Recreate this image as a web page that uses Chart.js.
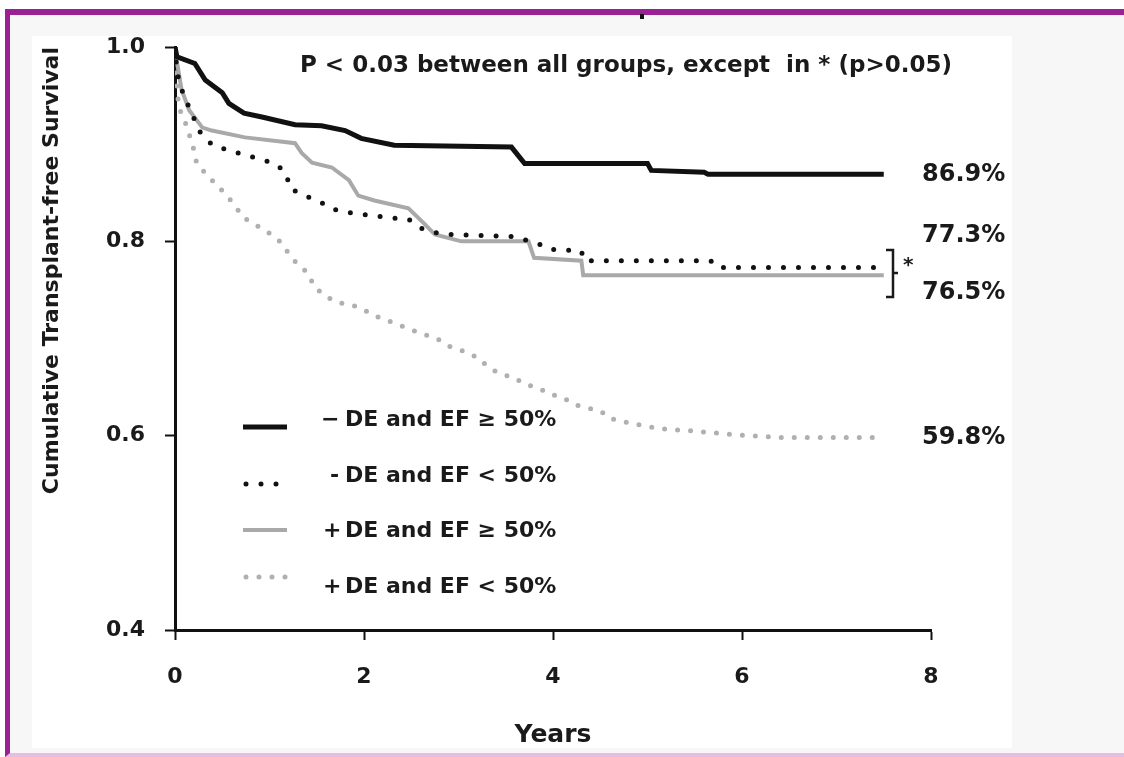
<!DOCTYPE html>
<html>
<head>
<meta charset="utf-8">
<script src="https://cdn.jsdelivr.net/npm/chart.js@4.4.1/dist/chart.umd.min.js"></script>
<style>
  body { margin: 0; background: #fff; }
  #frame { position: absolute; left: 5px; top: 9px; width: 1119px; height: 748px; box-sizing: border-box;
           background: #f7f7f7; border-top: 6px solid #9b2093; border-left: 5px solid #9b2093; border-bottom: 4px solid #e6bde6; }
  #paper { position: absolute; left: 32px; top: 36px; width: 980px; height: 712px; background: #fff; }
  #mark { position: absolute; left: 640px; top: 14px; width: 4px; height: 5px; background: #111; }
  #chart { position: absolute; left: 0; top: 0; }
</style>
</head>
<body>
<div id="frame"></div>
<div id="paper"></div>
<div id="mark"></div>
<canvas id="chart" width="1124" height="757"></canvas>
<script>
// Kaplan-Meier curves (years, survival)
const negPresX = [0, 0.02, 0.21, 0.32, 0.50, 0.57, 0.73, 0.92, 1.27, 1.55, 1.80, 1.97, 2.32, 3.56, 3.70, 5.00, 5.04, 5.60, 5.64, 7.50];
const negPresY = [1.0, 0.99, 0.983, 0.966, 0.953, 0.942, 0.932, 0.928, 0.920, 0.919, 0.914, 0.906, 0.899, 0.897, 0.880, 0.880, 0.873, 0.871, 0.869, 0.869];

const negRedX = [0, 0.02, 0.10, 0.18, 0.23, 0.31, 0.41, 0.57, 0.73, 0.89, 1.06, 1.18, 1.21, 1.36, 1.52, 1.64, 1.80, 1.97, 2.29, 2.47, 2.59, 2.75, 2.89, 3.56, 3.84, 3.95, 4.30, 4.33, 5.67, 5.74, 7.40];
const negRedY = [1.0, 0.974, 0.947, 0.933, 0.917, 0.907, 0.898, 0.894, 0.889, 0.885, 0.880, 0.870, 0.855, 0.847, 0.842, 0.834, 0.830, 0.828, 0.824, 0.823, 0.814, 0.809, 0.807, 0.805, 0.798, 0.792, 0.790, 0.780, 0.780, 0.773, 0.773];

const posPresX = [0, 0.02, 0.07, 0.15, 0.29, 0.39, 0.74, 1.27, 1.34, 1.45, 1.66, 1.84, 1.94, 2.11, 2.47, 2.64, 2.75, 3.03, 3.74, 3.80, 4.30, 4.32, 7.50];
const posPresY = [1.0, 0.985, 0.956, 0.935, 0.917, 0.914, 0.907, 0.901, 0.891, 0.881, 0.876, 0.863, 0.847, 0.842, 0.834, 0.818, 0.807, 0.800, 0.800, 0.783, 0.780, 0.765, 0.765];

const posRedX = [0, 0.02, 0.04, 0.11, 0.16, 0.20, 0.23, 0.34, 0.44, 0.55, 0.63, 0.73, 0.87, 0.99, 1.11, 1.20, 1.29, 1.41, 1.47, 1.58, 1.73, 1.89, 2.03, 2.17, 2.32, 2.47, 2.61, 2.77, 2.90, 3.05, 3.21, 3.32, 3.45, 3.59, 3.70, 3.85, 3.96, 4.11, 4.22, 4.51, 4.59, 4.72, 4.86, 5.14, 5.46, 5.93, 6.41, 7.39];
const posRedY = [1.0, 0.96, 0.938, 0.922, 0.907, 0.894, 0.880, 0.868, 0.858, 0.847, 0.837, 0.824, 0.816, 0.809, 0.800, 0.788, 0.777, 0.767, 0.754, 0.744, 0.737, 0.734, 0.728, 0.721, 0.716, 0.710, 0.705, 0.700, 0.692, 0.687, 0.680, 0.670, 0.663, 0.660, 0.653, 0.649, 0.643, 0.639, 0.632, 0.625, 0.618, 0.615, 0.612, 0.607, 0.605, 0.601, 0.598, 0.598];

const groupPrefix = ['\u2212', '-', '+', '+'];
const groupText = ['DE and EF \u2265 50%', 'DE and EF < 50%', 'DE and EF \u2265 50%', 'DE and EF < 50%'];
const endLabels = ['86.9%', '77.3%', '76.5%', '59.8%'];
const xTicks = [0, 2, 4, 6, 8];
const yTicks = [0.4, 0.6, 0.8, 1.0];
const pNote = 'P < 0.03 between all groups, except  in * (p>0.05)';

const FONT = '"DejaVu Sans", sans-serif';
const toPts = (xs, ys) => xs.map((x, i) => ({ x: x, y: ys[i] }));

// legend, end-of-curve percentages, bracket and p-value note
const annotations = {
    id: 'annotations',
    afterDatasetsDraw(chart) {
        const ctx = chart.ctx;
        const area = chart.chartArea;
        const ys = chart.scales.y;
        ctx.save();
        ctx.fillStyle = '#1a1a1a';
        ctx.textBaseline = 'middle';

        ctx.font = 'bold 23px ' + FONT;
        ctx.textAlign = 'left';
        ctx.fillText(pNote, area.left + 125, 66);

        // legend
        const textRows = [420, 476, 531, 587];
        const lineRows = [427, 484, 530, 577];
        const prefixX = [321, 330, 323, 323];
        chart.data.datasets.forEach((ds, i) => {
            ctx.save();
            ctx.strokeStyle = ds.borderColor;
            ctx.lineWidth = ds.borderWidth;
            ctx.lineCap = ds.borderCapStyle || 'butt';
            ctx.setLineDash(ds.borderDash || []);
            ctx.beginPath();
            const x0 = ds.borderDash ? 246 : 243;
            ctx.moveTo(x0, lineRows[i]);
            ctx.lineTo(287, lineRows[i]);
            ctx.stroke();
            ctx.restore();
            ctx.font = 'bold 22px ' + FONT;
            ctx.fillText(groupPrefix[i], prefixX[i], textRows[i]);
            ctx.fillText(groupText[i], 345, textRows[i]);
        });

        // final survival labels
        const labelShift = [0, -32, 17, 0];
        ctx.font = 'bold 24px ' + FONT;
        chart.data.datasets.forEach((ds, i) => {
            const last = ds.data[ds.data.length - 1];
            ctx.fillText(endLabels[i], 922, ys.getPixelForValue(last.y) + labelShift[i]);
        });

        // bracket for the non-significant pair
        ctx.strokeStyle = '#1a1a1a';
        ctx.lineWidth = 2.5;
        ctx.beginPath();
        ctx.moveTo(886, 250);
        ctx.lineTo(893, 250);
        ctx.lineTo(893, 297);
        ctx.lineTo(886, 297);
        ctx.moveTo(893, 273);
        ctx.lineTo(898, 273);
        ctx.stroke();
        ctx.font = 'bold 20px ' + FONT;
        ctx.fillText('*', 903, 266);
        ctx.restore();
    }
};

new Chart(document.getElementById('chart'), {
    type: 'line',
    data: {
        datasets: [
            { label: '\u2212 DE and EF \u2265 50%', data: toPts(negPresX, negPresY), borderColor: '#111', borderWidth: 5 },
            { label: '- DE and EF < 50%', data: toPts(negRedX, negRedY), borderColor: '#111', borderWidth: 5,
              borderDash: [0, 15], borderCapStyle: 'round' },
            { label: '+ DE and EF \u2265 50%', data: toPts(posPresX, posPresY), borderColor: '#a9a9a9', borderWidth: 4 },
            { label: '+ DE and EF < 50%', data: toPts(posRedX, posRedY), borderColor: '#b0b0b0', borderWidth: 5,
              borderDash: [0, 13], borderCapStyle: 'round' }
        ]
    },
    options: {
        responsive: false,
        animation: false,
        parsing: false,
        elements: { point: { radius: 0 }, line: { tension: 0, fill: false } },
        layout: { padding: { left: 30, top: 47, right: 193, bottom: 0 } },
        plugins: { legend: { display: false }, tooltip: { enabled: false } },
        scales: {
            x: {
                type: 'linear',
                min: 0,
                max: 8,
                afterFit: (s) => { s.height = 127; },
                afterBuildTicks: (s) => { s.ticks = xTicks.map(v => ({ value: v })); },
                grid: { drawOnChartArea: false, drawTicks: true, tickLength: 10, tickColor: '#111', tickWidth: 2 },
                border: { color: '#111', width: 3 },
                ticks: { color: '#1a1a1a', padding: 24, font: { family: FONT, size: 22, weight: 'bold' } },
                title: { display: true, text: 'Years', color: '#1a1a1a', padding: { top: 0, bottom: 7 },
                         font: { family: FONT, size: 25, weight: 'bold' } }
            },
            y: {
                type: 'linear',
                min: 0.4,
                max: 1.0,
                afterFit: (s) => { s.width = 145; },
                afterBuildTicks: (s) => { s.ticks = yTicks.map(v => ({ value: v })); },
                grid: { drawOnChartArea: false, drawTicks: true, tickLength: 10, tickColor: '#111', tickWidth: 2 },
                border: { color: '#111', width: 3 },
                ticks: { color: '#1a1a1a', padding: 20, font: { family: FONT, size: 22, weight: 'bold' },
                         callback: (v) => v.toFixed(1) },
                title: { display: true, text: 'Cumulative Transplant-free Survival', color: '#1a1a1a', align: 'end',
                         padding: { top: 9, bottom: 0 }, font: { family: FONT, size: 22, weight: 'bold' } }
            }
        }
    },
    plugins: [annotations]
});
</script>
</body>
</html>
